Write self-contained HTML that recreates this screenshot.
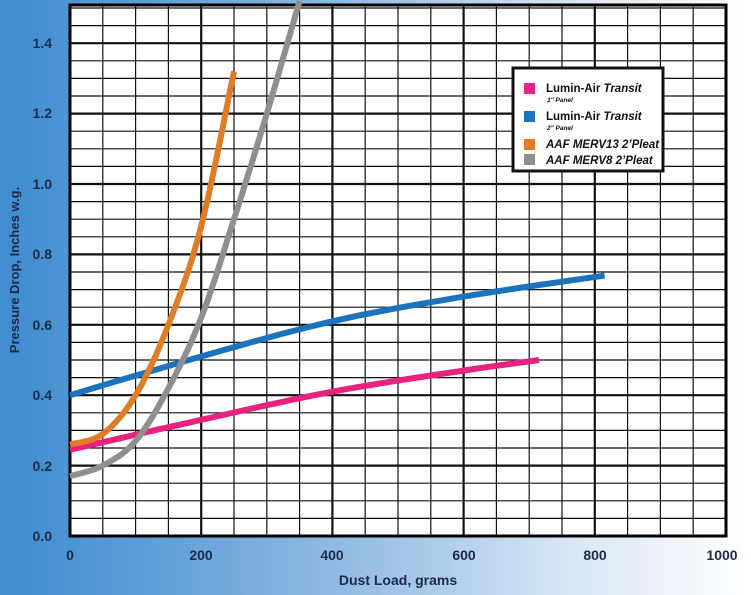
<!DOCTYPE html>
<html><head><style>
html,body{margin:0;padding:0;width:751px;height:595px;overflow:hidden}
body{background:linear-gradient(90deg,#3f8ccf 0%,#5d9ed8 20%,#9bc0e4 50%,#d6e5f4 75%,#ffffff 100%)}
svg{position:absolute;left:0;top:0}
text{font-family:"Liberation Sans",sans-serif;font-weight:bold;fill:#1c2a4e}
</style></head><body>
<svg width="751" height="595" viewBox="0 0 751 595">
<rect x="70" y="5" width="656" height="531" fill="#fff"/>
<g id="grid" stroke="#111" stroke-width="1.3"></g>
<rect x="70" y="5" width="656" height="531" fill="none" stroke="#000" stroke-width="3"/>
<g id="curves" fill="none" stroke-width="6" stroke-linecap="butt"></g>
<g font-size="14">
<text x="52" y="541" text-anchor="end">0.0</text>
<text x="52" y="471" text-anchor="end">0.2</text>
<text x="52" y="400" text-anchor="end">0.4</text>
<text x="52" y="330" text-anchor="end">0.6</text>
<text x="52" y="259" text-anchor="end">0.8</text>
<text x="52" y="189" text-anchor="end">1.0</text>
<text x="52" y="118" text-anchor="end">1.2</text>
<text x="52" y="48" text-anchor="end">1.4</text>
</g>
<g font-size="14" text-anchor="middle">
<text x="70" y="560">0</text><text x="201" y="560">200</text><text x="332" y="560">400</text>
<text x="464" y="560">600</text><text x="595" y="560">800</text><text x="722" y="560">1000</text>
</g>
<text x="398" y="585" font-size="14" text-anchor="middle">Dust Load, grams</text>
<text transform="translate(19,270) rotate(-90)" font-size="13" text-anchor="middle">Pressure Drop, Inches w.g.</text>
<rect x="513" y="68" width="150" height="103" fill="#fff" stroke="#111" stroke-width="3"/>
<rect x="524" y="83" width="11" height="11" fill="#e8237f"/>
<rect x="524" y="111" width="11" height="11" fill="#1b72bd"/>
<rect x="524" y="139" width="11" height="11" fill="#e07b26"/>
<rect x="524" y="154" width="11" height="11" fill="#8f8f8f"/>
<g font-size="11.5" fill="#000">
<text x="546" y="92" style="fill:#111">Lumin-Air <tspan font-style="italic">Transit</tspan></text>
<text x="547" y="102" font-size="6.5" font-style="italic" style="fill:#111">1" Panel</text>
<text x="546" y="120" style="fill:#111">Lumin-Air <tspan font-style="italic">Transit</tspan></text>
<text x="547" y="130" font-size="6.5" font-style="italic" style="fill:#111">2" Panel</text>
<text x="546" y="148" font-style="italic" style="fill:#111">AAF MERV13 2’Pleat</text>
<text x="546" y="164" font-style="italic" style="fill:#111">AAF MERV8 2’Pleat</text>
</g>
</svg>
<script>
const X=g=>70+g*0.656, Y=v=>536-v*352;
let s='';
for(let g=0;g<=1000;g+=50){const w=(g%200==0)?2.2:1.2;s+=`<line x1="${X(g)}" y1="5" x2="${X(g)}" y2="536" stroke-width="${w}"/>`;}
for(let i=0;i<=30;i++){const v=i*0.05;const w=(i%4==0)?2.2:1.2;s+=`<line x1="70" y1="${Y(v)}" x2="726" y2="${Y(v)}" stroke-width="${w}"/>`;}
document.getElementById('grid').innerHTML=s;
function path(pts,c){let d=pts.map((p,i)=>(i?'L':'M')+X(p[0]).toFixed(1)+' '+Y(p[1]).toFixed(1)).join(' ');return `<path d="${d}" stroke="${c}"/>`;}
function interp(pts,n){
 let out=[];for(let i=0;i<pts.length-1;i++){const p0=pts[Math.max(0,i-1)],p1=pts[i],p2=pts[i+1],p3=pts[Math.min(pts.length-1,i+2)];
 for(let t=0;t<1;t+=1/n){const t2=t*t,t3=t2*t;const f=(a,b,c,d)=>0.5*((2*b)+(-a+c)*t+(2*a-5*b+4*c-d)*t2+(-a+3*b-3*c+d)*t3);
 out.push([f(p0[0],p1[0],p2[0],p3[0]),f(p0[1],p1[1],p2[1],p3[1])]);}}
 out.push(pts[pts.length-1]);return out;}
let c='';
c+=path(interp([[0,0.245],[200,0.33],[400,0.41],[600,0.47],[715,0.5]],10),'#e8237f');
c+=path(interp([[0,0.40],[200,0.51],[400,0.61],[600,0.68],[815,0.74]],10),'#1b72bd');
c+=path(interp([[0,0.17],[50,0.2],[100,0.27],[150,0.42],[200,0.62],[250,0.9],[300,1.2],[350,1.52]],10),'#8f8f8f');
c+=path(interp([[0,0.26],[50,0.29],[100,0.4],[150,0.6],[200,0.88],[250,1.32]],10),'#e07b26');
document.getElementById('curves').innerHTML=c;
</script>
</body></html>
